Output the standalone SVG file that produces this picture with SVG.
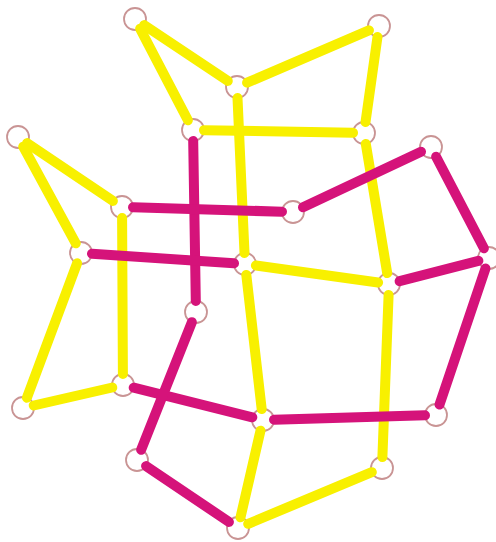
<svg xmlns="http://www.w3.org/2000/svg" width="496" height="542" viewBox="0 0 496 542">
<style>
.n{fill:#ffffff;stroke:#c99494;stroke-width:1.8}
.y{stroke:#f8f000;stroke-width:10;stroke-linecap:round;fill:none}
.m{stroke:#d5137a;stroke-width:10;stroke-linecap:round;fill:none}
</style>
<rect width="496" height="542" fill="#ffffff"/>
<g id="nodes">
<g id="n1"><circle class="n" cx="135" cy="19" r="11"/></g>
<g id="n2"><circle class="n" cx="379" cy="26" r="11"/></g>
<g id="n3"><circle class="n" cx="237" cy="87" r="11"/></g>
<g id="n4"><circle class="n" cx="193" cy="130" r="11"/></g>
<g id="n5"><circle class="n" cx="364" cy="133" r="11"/></g>
<g id="n6"><circle class="n" cx="18" cy="137" r="11"/></g>
<g id="n7"><circle class="n" cx="431" cy="147" r="11"/></g>
<g id="n8"><circle class="n" cx="122" cy="207" r="11"/></g>
<g id="n9"><circle class="n" cx="293" cy="212" r="11"/></g>
<g id="n10"><circle class="n" cx="81" cy="253" r="11"/></g>
<g id="n11"><circle class="n" cx="245" cy="264" r="11"/></g>
<g id="n12"><circle class="n" cx="489" cy="258" r="11"/></g>
<g id="n13"><circle class="n" cx="389" cy="284" r="11"/></g>
<g id="n14"><circle class="n" cx="196" cy="312" r="11"/></g>
<g id="n15"><circle class="n" cx="123" cy="385" r="11"/></g>
<g id="n16"><circle class="n" cx="23" cy="408" r="11"/></g>
<g id="n17"><circle class="n" cx="263" cy="420" r="11"/></g>
<g id="n18"><circle class="n" cx="436" cy="415" r="11"/></g>
<g id="n19"><circle class="n" cx="137" cy="460" r="11"/></g>
<g id="n20"><circle class="n" cx="382" cy="468" r="11"/></g>
<g id="n21"><circle class="n" cx="238" cy="528" r="11"/></g>
</g>
<g id="connectors">
<line class="y" x1="144.2" y1="25.1" x2="227.8" y2="80.9"/>
<line class="y" x1="140.1" y1="28.7" x2="187.9" y2="120.3"/>
<line class="y" x1="247.1" y1="82.7" x2="368.9" y2="30.3"/>
<line class="y" x1="377.5" y1="36.9" x2="365.5" y2="122.1"/>
<line class="y" x1="204" y1="130.2" x2="353" y2="132.8"/>
<line class="y" x1="237.5" y1="98" x2="244.5" y2="253"/>
<line class="y" x1="365.8" y1="143.9" x2="387.2" y2="273.1"/>
<line class="y" x1="27.1" y1="143.1" x2="112.9" y2="200.9"/>
<line class="y" x1="23.2" y1="146.7" x2="75.8" y2="243.3"/>
<line class="y" x1="122.1" y1="218" x2="122.9" y2="374"/>
<line class="y" x1="77.1" y1="263.3" x2="26.9" y2="397.7"/>
<line class="y" x1="33.7" y1="405.5" x2="112.3" y2="387.5"/>
<line class="y" x1="255.9" y1="265.5" x2="378.1" y2="282.5"/>
<line class="y" x1="246.3" y1="274.9" x2="261.7" y2="409.1"/>
<line class="y" x1="388.6" y1="295" x2="382.4" y2="457"/>
<line class="y" x1="260.5" y1="430.7" x2="240.5" y2="517.3"/>
<line class="y" x1="371.8" y1="472.2" x2="248.2" y2="523.8"/>
<line class="m" x1="193.2" y1="141" x2="195.8" y2="301"/>
<line class="m" x1="133" y1="207.3" x2="282" y2="211.7"/>
<line class="m" x1="92" y1="253.7" x2="234" y2="263.3"/>
<line class="m" x1="303" y1="207.3" x2="421" y2="151.7"/>
<line class="m" x1="436.1" y1="156.7" x2="483.9" y2="248.3"/>
<line class="m" x1="478.4" y1="260.8" x2="399.6" y2="281.2"/>
<line class="m" x1="485.5" y1="268.4" x2="439.5" y2="404.6"/>
<line class="m" x1="425" y1="415.3" x2="274" y2="419.7"/>
<line class="m" x1="133.7" y1="387.7" x2="252.3" y2="417.3"/>
<line class="m" x1="191.9" y1="322.2" x2="141.1" y2="449.8"/>
<line class="m" x1="146.1" y1="466.1" x2="228.9" y2="521.9"/>
</g>
</svg>
